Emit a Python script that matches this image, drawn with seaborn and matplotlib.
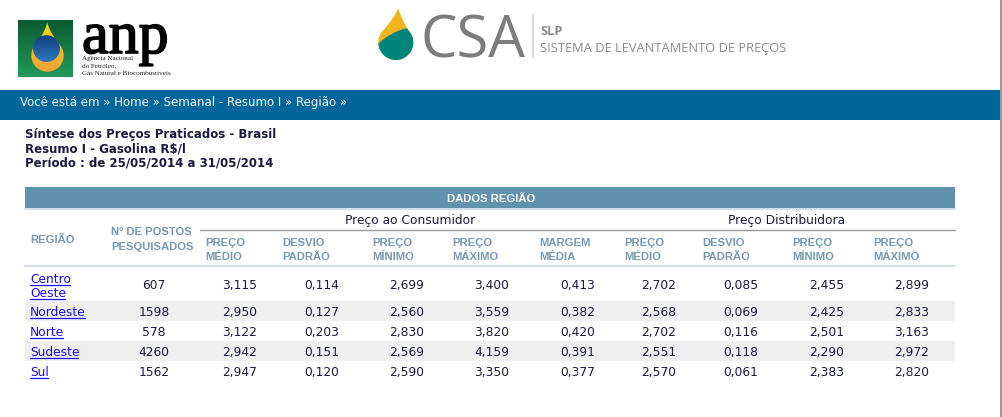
import numpy as np
import matplotlib
matplotlib.use("Agg")
import matplotlib.pyplot as plt
import matplotlib.colors as mcolors
import matplotlib.patheffects as pe
from matplotlib.patches import Polygon, Rectangle, Circle
import seaborn as sns

# ---------------- data ----------------
regions = ["Centro Oeste", "Nordeste", "Norte", "Sudeste", "Sul"]
postos = [607, 1598, 578, 4260, 1562]
cons_medio = [3.115, 2.950, 3.122, 2.942, 2.947]
cons_desvio = [0.114, 0.127, 0.203, 0.151, 0.120]
cons_min = [2.699, 2.560, 2.830, 2.569, 2.590]
cons_max = [3.400, 3.559, 3.820, 4.159, 3.350]
margem = [0.413, 0.382, 0.420, 0.391, 0.377]
dist_medio = [2.702, 2.568, 2.702, 2.551, 2.570]
dist_desvio = [0.085, 0.069, 0.116, 0.118, 0.061]
dist_min = [2.455, 2.425, 2.501, 2.290, 2.383]
dist_max = [2.899, 2.833, 3.163, 2.972, 2.820]

col_headers = ["PREÇO\nMÉDIO", "DESVIO\nPADRÃO", "PREÇO\nMÍNIMO", "PREÇO\nMÁXIMO",
               "MARGEM\nMÉDIA", "PREÇO\nMÉDIO", "DESVIO\nPADRÃO", "PREÇO\nMÍNIMO",
               "PREÇO\nMÁXIMO"]
group_headers = ["Preço ao Consumidor", "Preço Distribuidora"]
title_lines = ["Síntese dos Preços Praticados - Brasil",
               "Resumo I - Gasolina R$/l",
               "Período : de 25/05/2014 a 31/05/2014"]
breadcrumb = "Você está em » Home » Semanal - Resumo I » Região »"

# ---------------- setup ----------------
sns.set_theme(style="white")
plt.rcParams["font.family"] = ["DejaVu Sans"]

W, H = 1002, 417
fig = plt.figure(figsize=(W / 100, H / 100), dpi=100)
ax = fig.add_axes([0, 0, 1, 1])
ax.set_xlim(0, W)
ax.set_ylim(H, 0)
ax.axis("off")
fig.patch.set_facecolor("white")

PX = 72 / 100  # px -> pt

NAVY = "#1a1a40"
HDR = "#7499b4"
LINK = "#1a0dee"

renderer = fig.canvas.get_renderer()


def grad(patch, x0, x1, y0, y1, c_top, c_bot, z=2):
    ax.add_patch(patch)
    patch.set_facecolor("none")
    patch.set_edgecolor("none")
    c1 = np.array(mcolors.to_rgb(c_top))
    c2 = np.array(mcolors.to_rgb(c_bot))
    t = np.linspace(0, 1, 64)[:, None, None]
    arr = c1 * (1 - t) + c2 * t
    im = ax.imshow(arr, extent=(x0, x1, y1, y0), aspect="auto", zorder=z,
                   interpolation="bilinear")
    im.set_clip_path(patch)
    return im


def qbez(p0, p1, p2, n=30):
    t = np.linspace(0, 1, n)[:, None]
    p0, p1, p2 = map(np.asarray, (p0, p1, p2))
    return (1 - t) ** 2 * p0 + 2 * (1 - t) * t * p1 + t ** 2 * p2


def drop_shape(cx, cy, r, apx, apy, open_deg=50, pull=0.35):
    a0 = np.deg2rad(-90 + open_deg)
    a1 = np.deg2rad(270 - open_deg)
    ang = np.linspace(a0, a1, 90)
    arc = np.column_stack([cx + r * np.cos(ang), cy + r * np.sin(ang)])
    right, left = arc[0], arc[-1]
    apex = np.array([apx, apy])
    ctrl_r = right + (apex - right) * 0.55 + np.array([-(right[0] - apx) * pull, 0])
    ctrl_l = left + (apex - left) * 0.55 + np.array([(apx - left[0]) * pull, 0])
    side_l = qbez(left, ctrl_l, apex)
    side_r = qbez(apex, ctrl_r, right)
    return np.vstack([arc, side_l, side_r])


# ---------------- ANP logo ----------------
sq = Rectangle((18.3, 20), 55, 56.7)
grad(sq, 18.3, 73.3, 20, 76.7, "#0b5a30", "#23995a", z=2)
drop = Polygon(drop_shape(47.5, 55.5, 16.2, 47.3, 22.3, open_deg=48, pull=0.25),
               closed=True)
grad(drop, 30, 65, 22, 72, "#f8d80c", "#f0a238", z=3)
circ = Circle((46.5, 48.6), 13.4)
grad(circ, 33, 60, 35, 62, "#0f3f82", "#2f78be", z=4)

ax.text(82, 53, "anp", fontsize=60 * PX, family="Liberation Serif",
        color="black", va="baseline", ha="left", zorder=5,
        path_effects=[pe.withStroke(linewidth=1.2, foreground="black")])
for i, s in enumerate(["Agência Nacional", "do Petróleo,",
                       "Gás Natural e Biocombustíveis"]):
    ax.text(82, 59.5 + i * 7.6, s, fontsize=7.2 * PX, family="Liberation Serif",
            color="#222222", va="baseline", ha="left", zorder=5)

# ---------------- CSA logo ----------------
cdrop = Polygon(drop_shape(395.8, 42.5, 17.5, 398.3, 8.3, open_deg=45, pull=0.15),
                closed=True, facecolor="#f0b41c", edgecolor="none", zorder=3)
ax.add_patch(cdrop)
teal_top = qbez((374, 49), (388, 30), (418, 26))
teal = Polygon(np.vstack([teal_top, [(418, 66), (374, 66)]]), closed=True,
               facecolor="#00857a", edgecolor="none", zorder=4)
ax.add_patch(teal)
teal.set_clip_path(cdrop)

ax.text(421, 57, "CSA", fontsize=58 * PX, family="Open Sans", color="#7d7d7d",
        va="baseline", ha="left", zorder=5)
ax.plot([533, 533], [15, 57], color="#cfcfcf", lw=1.2, zorder=5)
ax.text(540, 35, "SLP", fontsize=12.9 * PX, family="Open Sans", fontweight="bold",
        color="#8c8c8c", va="baseline", ha="left")
ax.text(540, 51.5, "SISTEMA DE LEVANTAMENTO DE PREÇOS", fontsize=12.9 * PX,
        family="Open Sans", color="#8c8c8c", va="baseline", ha="left")

# ---------------- breadcrumb bar ----------------
ax.add_patch(Rectangle((0, 90), 1000, 30, facecolor="#00669b", edgecolor="none"))
ax.text(20, 105.7, breadcrumb, fontsize=11.7 * PX, color="white",
        va="baseline", ha="left")

# right border
ax.add_patch(Rectangle((1000, 0), 2, H, facecolor="#9a9a9a", edgecolor="none"))

# ---------------- titles ----------------
for i, s in enumerate(title_lines):
    ax.text(25, 137.7 + i * 14.4, s, fontsize=11.75 * PX, fontweight="bold",
            color=NAVY, va="baseline", ha="left")

# ---------------- table ----------------
TX0, TX1 = 25, 955
ax.add_patch(Rectangle((TX0, 187), TX1 - TX0, 21, facecolor="#6092ae",
                       edgecolor="none"))
ax.text(491, 201.7, "DADOS REGIÃO", fontsize=11.3 * PX, family="Liberation Sans",
        fontweight="bold", color="white", va="baseline", ha="center")
ax.plot([TX0, TX1], [209, 209], color="#d3ddec", lw=1.4)

for s, xc in zip(group_headers, [410, 787]):
    ax.text(xc, 224, s, fontsize=12.2 * PX, color=NAVY, va="baseline", ha="center")
ax.plot([200, TX1], [229.5, 229.5], color="#999999", lw=1.0)

hdr_kw = dict(fontsize=11.3 * PX, family="Liberation Sans", fontweight="bold",
              color=HDR, va="baseline", ha="left", linespacing=1.0)
ax.text(30, 242.7, "REGIÃO", **hdr_kw)
ax.text(111, 235, "Nº DE POSTOS", **hdr_kw)
ax.text(111, 250, "PESQUISADOS", **hdr_kw)

hdr_left = [205, 282, 372, 452, 539, 624, 702, 792, 873]
for lab, xl in zip(col_headers, hdr_left):
    l1, l2 = lab.split("\n")
    ax.text(xl, 246, l1, **hdr_kw)
    ax.text(xl, 260.5, l2, **hdr_kw)

ax.plot([TX0, TX1], [266, 266], color="#d3ddec", lw=1.4)

row_top = [266, 301, 321, 341, 361]
row_bot = [301, 321, 341, 361, 381]
row_base = [289.3, 316, 336, 356, 376]
for i in range(len(regions)):
    if i % 2 == 1:
        ax.add_patch(Rectangle((TX0, row_top[i]), TX1 - TX0,
                               row_bot[i] - row_top[i], facecolor="#efefef",
                               edgecolor="none", zorder=0.5))

value_cols = [cons_medio, cons_desvio, cons_min, cons_max, margem,
              dist_medio, dist_desvio, dist_min, dist_max]
val_right = [257, 339, 424, 509, 595, 676, 758, 844, 929]

num_kw = dict(fontsize=12.3 * PX, color=NAVY, va="baseline")


def fmt(v):
    return f"{v:.3f}".replace(".", ",")


for i, reg in enumerate(regions):
    parts = reg.split(" ") if i == 0 else [reg]
    bases = [282.7, 296.7] if len(parts) == 2 else [row_base[i]]
    for p, b in zip(parts, bases):
        t = ax.text(30, b, p, fontsize=12.3 * PX, color=LINK, va="baseline",
                    ha="left")
        bb = t.get_window_extent(renderer)
        ax.plot([bb.x0, bb.x1 - 1], [b + 1.8, b + 1.8], color=LINK, lw=0.9)
    ax.text(154, row_base[i], str(postos[i]), ha="center", **num_kw)
    for vals, xr in zip(value_cols, val_right):
        ax.text(xr, row_base[i], fmt(vals[i]), ha="right", **num_kw)

fig.savefig("out.png", dpi=100, facecolor="white")
